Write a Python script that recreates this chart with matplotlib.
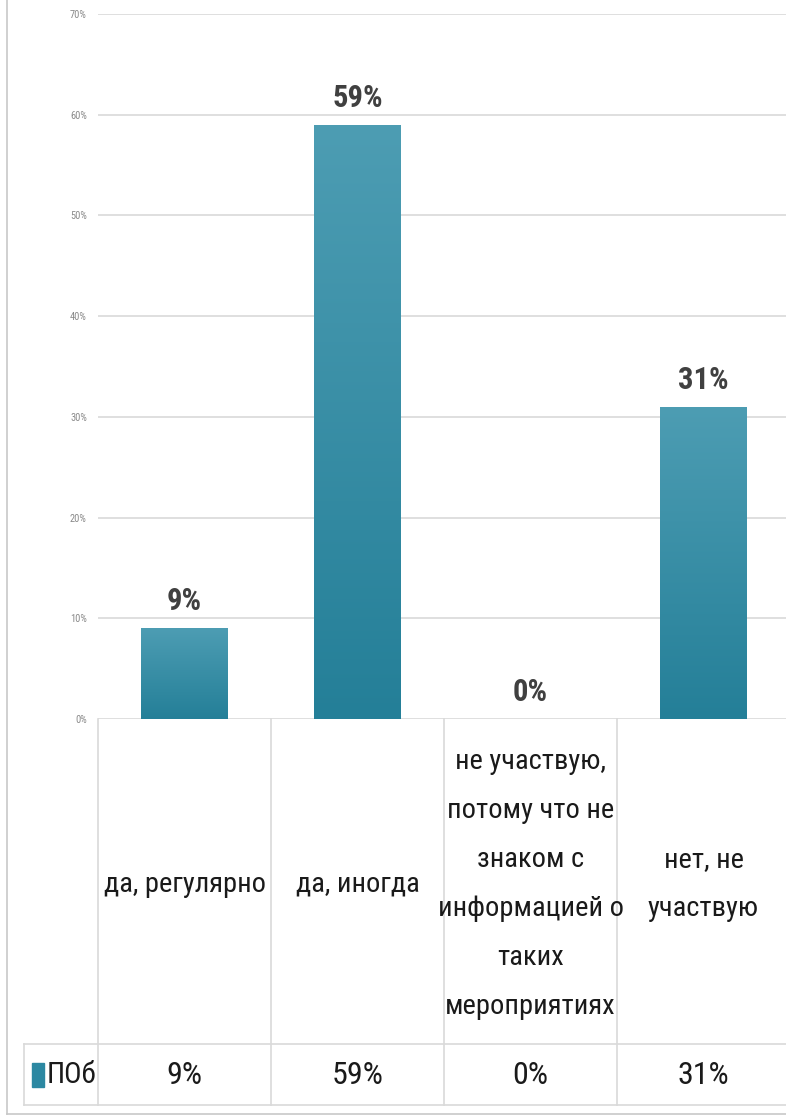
import matplotlib.pyplot as plt
import matplotlib.transforms as mtransforms
from matplotlib.patches import Rectangle
from matplotlib.colors import LinearSegmentedColormap
import numpy as np

# Data
categories = ['да, регулярно', 'да, иногда',
              'не участвую,\nпотому что не\nзнаком с\nинформацией о\nтаких\nмероприятиях',
              'нет, не\nучаствую']
values = [9, 59, 0, 31]
series_name = 'ПОб'
yticks = [0, 10, 20, 30, 40, 50, 60, 70]

plt.rcParams['font.family'] = ['Liberation Sans Narrow', 'Roboto Condensed', 'Roboto', 'DejaVu Sans']

W, H = 786, 1116
fig = plt.figure(figsize=(W / 100, H / 100), dpi=100)

def fx(px):
    return px / W

def fy(py):
    return 1 - py / H

# plot area: 0% at y=719, 70% at y=14, categories 173px wide from x=98
ax = fig.add_axes([fx(98), fy(719), 4 * 173 / W, (719 - 14) / H])
x = np.arange(len(values))
bar_color = '#2C88A2'
bars = ax.bar(x, values, width=0.5, color=bar_color, zorder=3)

# vertical gradient on bars
grad = np.linspace(0, 1, 256).reshape(-1, 1)
cmap = LinearSegmentedColormap.from_list('g', ['#247F98', '#4D9DB3'])
for b in bars:
    if b.get_height() <= 0:
        continue
    im = ax.imshow(grad, extent=[b.get_x(), b.get_x() + b.get_width(), 0, b.get_height()],
                   origin='lower', cmap=cmap, aspect='auto', zorder=3)
    im.set_clip_path(b)

ax.set_xlim(-0.5, len(values) - 0.5)
ax.set_ylim(0, 70)
ax.set_yticks(yticks)
ax.set_yticklabels([f'{v}%' for v in yticks], fontsize=7.5, color='#8a8a8a')
ax.tick_params(axis='y', length=0, pad=8)
ax.set_xticks([])
ax.grid(axis='y', color='#d9d9d9', linewidth=1.2, zorder=0)
for s in ax.spines.values():
    s.set_visible(False)

for xi, v in zip(x, values):
    ax.text(xi, v + 1.2, f'{v}%', ha='center', va='bottom', fontsize=22,
            fontweight='bold', color='#404040')

# data table below the axis
tr = mtransforms.blended_transform_factory(ax.transData, fig.transFigure)
line_kw = dict(color='#d9d9d9', linewidth=1.2, clip_on=False)
for xb in np.arange(len(values) + 1) - 0.5:
    ax.plot([xb, xb], [fy(719), fy(1105)], transform=tr, **line_kw)
fig.add_artist(plt.Line2D([fx(24), 1], [fy(1044), fy(1044)], **line_kw))
fig.add_artist(plt.Line2D([fx(24), 1], [fy(1105), fy(1105)], **line_kw))
fig.add_artist(plt.Line2D([fx(24), fx(24)], [fy(1044), fy(1105)], **line_kw))

for xi, lab in zip(x, categories):
    ax.text(xi, fy(884), lab, transform=tr, ha='center', va='center',
            fontsize=20.5, color='#1a1a1a', linespacing=2.05)
for xi, v in zip(x, values):
    ax.text(xi, fy(1075), f'{v}%', transform=tr, ha='center', va='center',
            fontsize=23, color='#1a1a1a')

# legend key in the table
fig.add_artist(Rectangle((fx(32), fy(1087)), 12 / W, 24 / H, color=bar_color))
fig.text(fx(47), fy(1075), series_name, ha='left', va='center', fontsize=21, color='#1a1a1a')

# outer frame
fig.add_artist(plt.Line2D([fx(7), fx(7)], [1, fy(1114)], color='#c8c8c8', linewidth=1.2))
fig.add_artist(plt.Line2D([fx(7), 1], [fy(1114), fy(1114)], color='#c8c8c8', linewidth=1.2))

fig.savefig('out.png', dpi=100)
